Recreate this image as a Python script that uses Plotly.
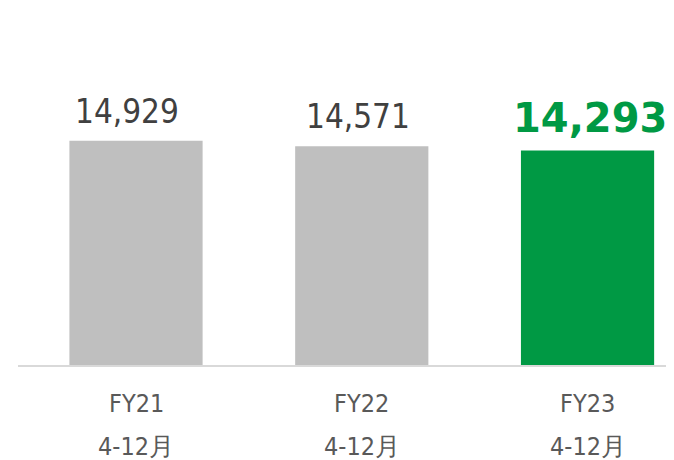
import plotly.graph_objects as go

periods = ["FY21", "FY22", "FY23"]
months = ["4-12月", "4-12月", "4-12月"]
values = [14929, 14571, 14293]
bar_colors = ["#BFBFBF", "#BFBFBF", "#009944"]

FONT = "DejaVu Sans Condensed, DejaVu Sans, sans-serif"
label_dx = [-9, -4, 2]  # small horizontal nudges of the value labels

x = list(range(len(periods)))
fig = go.Figure(go.Bar(x=x, y=values, marker=dict(color=bar_colors, line=dict(width=0)),
                       width=0.59, hoverinfo="skip"))

anns = []
for i, v in enumerate(values):
    last = i == len(values) - 1
    anns.append(dict(
        x=i, y=v, xref="x", yref="y", text=f"{v:,}", showarrow=False,
        yanchor="bottom", yshift=7 if last else 8, xshift=label_dx[i],
        font=dict(family="DejaVu Sans, sans-serif" if last else FONT,
                  size=40 if last else 33,
                  color="#009944" if last else "#404040",
                  weight="bold" if last else "normal"),
    ))
    anns.append(dict(x=i, y=-0.109, xref="x", yref="paper", text=periods[i], showarrow=False,
                     yanchor="middle", font=dict(family=FONT, size=25, color="#595959")))
    anns.append(dict(x=i, y=-0.227, xref="x", yref="paper", text=months[i], showarrow=False,
                     yanchor="middle", font=dict(family=FONT, size=25, color="#595959")))

fig.update_layout(
    width=674, height=452,
    margin=dict(l=10, r=0, t=0, b=95),
    paper_bgcolor="white", plot_bgcolor="white",
    showlegend=False,
    xaxis=dict(range=[-0.5227, 2.4184], showticklabels=False, showgrid=False, zeroline=False,
               showline=True, linecolor="#D9D9D9", linewidth=2, ticks=""),
    yaxis=dict(range=[0, 23776], visible=False, showgrid=False, zeroline=False),
    annotations=anns,
)

fig.write_html("out.html")
